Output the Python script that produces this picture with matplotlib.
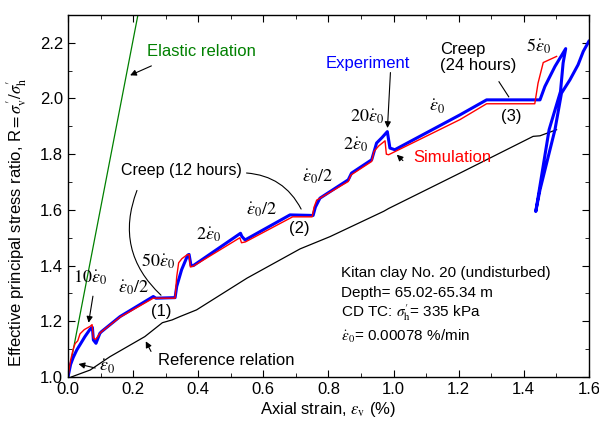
import numpy as np
import matplotlib
matplotlib.use("Agg")
import matplotlib.pyplot as plt
from matplotlib.ticker import MultipleLocator

plt.rcParams['font.family'] = ['Liberation Sans', 'DejaVu Sans']
plt.rcParams['mathtext.fontset'] = 'stix'

# === Data (axial strain %, stress ratio R) ===
exp_x = [0.000, 0.008, 0.016, 0.027, 0.052, 0.068, 0.075, 0.078, 0.086, 0.098,
         0.103, 0.160, 0.262, 0.270, 0.329, 0.334, 0.349, 0.368, 0.372, 0.378,
         0.385, 0.530, 0.534, 0.544, 0.682, 0.753, 0.760, 0.774, 0.861, 0.871,
         0.933, 0.948, 0.965, 0.981, 0.989, 1.004, 1.204, 1.286, 1.450, 1.465,
         1.496, 1.529, 1.521, 1.513, 1.478, 1.437,
         1.450, 1.496, 1.516, 1.542, 1.567, 1.583, 1.600]
exp_y = [1.000, 1.045, 1.070, 1.097, 1.145, 1.172, 1.178, 1.133, 1.121, 1.157,
         1.163, 1.217, 1.289, 1.283, 1.285, 1.325, 1.385, 1.438, 1.440, 1.400,
         1.400, 1.516, 1.505, 1.492, 1.582, 1.580, 1.610, 1.642, 1.708, 1.732,
         1.780, 1.840, 1.860, 1.881, 1.822, 1.816, 1.941, 1.995, 1.995, 2.043,
         2.115, 2.179, 2.127, 2.025, 1.888, 1.594,
         1.672, 1.888, 2.019, 2.067, 2.121, 2.169, 2.205]

sim_x = [0.000, 0.008, 0.016, 0.022, 0.030, 0.037, 0.050, 0.068, 0.074, 0.078,
         0.085, 0.100, 0.160, 0.262, 0.329, 0.334, 0.340, 0.350, 0.365, 0.372,
         0.376, 0.385, 0.528, 0.533, 0.545, 0.690, 0.750, 0.756, 0.764, 0.861,
         0.869, 0.933, 0.940, 0.955, 0.974, 0.978, 0.985, 1.204, 1.286, 1.434,
         1.444, 1.460, 1.501]
sim_y = [1.000, 1.060, 1.100, 1.120, 1.130, 1.155, 1.170, 1.182, 1.188, 1.140,
         1.135, 1.160, 1.215, 1.283, 1.283, 1.360, 1.410, 1.425, 1.438, 1.440,
         1.395, 1.398, 1.500, 1.482, 1.485, 1.575, 1.575, 1.610, 1.635, 1.702,
         1.725, 1.774, 1.810, 1.830, 1.848, 1.800, 1.798, 1.924, 1.981, 1.981,
         2.055, 2.129, 2.151]

ref_x = [0.010, 0.068, 0.129, 0.236, 0.290, 0.320, 0.344, 0.395, 0.550, 0.713,
         0.805, 0.970, 0.985, 1.142, 1.204, 1.429, 1.450, 1.501]
ref_y = [1.000, 1.025, 1.073, 1.145, 1.195, 1.205, 1.217, 1.241, 1.355, 1.460,
         1.504, 1.595, 1.605, 1.696, 1.732, 1.864, 1.866, 1.888]

elastic_x = [0.0, 0.25]
elastic_y = [1.0, 2.5125]

eps = r'\dot{\varepsilon}_0'

fig = plt.figure(figsize=(5.99, 4.26), dpi=100)
ax = fig.add_axes([0.1135, 0.115, 0.8695, 0.85])

ax.plot(elastic_x, elastic_y, color='green', lw=0.9)
ax.plot(ref_x, ref_y, color='black', lw=0.9)
ax.plot(exp_x, exp_y, color='blue', lw=2.2)
ax.plot(sim_x, sim_y, color='red', lw=1.0)

ax.set_xlim(0, 1.6)
ax.set_ylim(1.0, 2.3)
ax.xaxis.set_major_locator(MultipleLocator(0.2))
ax.xaxis.set_minor_locator(MultipleLocator(0.1))
ax.yaxis.set_major_locator(MultipleLocator(0.2))
ax.yaxis.set_minor_locator(MultipleLocator(0.1))
ax.tick_params(which='both', direction='in', top=True, right=True, labelsize=12)
ax.tick_params(which='major', length=5)
ax.tick_params(which='minor', length=3)
for s in ax.spines.values():
    s.set_linewidth(1.0)

ax.set_xlabel(r'Axial strain, $\varepsilon_{\rm v}$ (%)', fontsize=12, labelpad=2)
ax.set_ylabel(r"Effective principal stress ratio, R$=\sigma^{\prime}_{\rm v}/\sigma^{\prime}_{\rm h}$",
              fontsize=12)
ax.yaxis.set_label_coords(-0.075, 0.428)

fs = 12
ax.text(0.243, 2.168, 'Elastic relation', color='green', fontsize=fs, va='center')
ax.text(0.792, 2.125, 'Experiment', color='blue', fontsize=fs, va='center')
ax.text(1.060, 1.787, 'Simulation', color='red', fontsize=fs, va='center')
ax.text(1.142, 2.146, 'Creep\n(24 hours)', fontsize=fs, va='center', linespacing=1.1)
ax.text(0.162, 1.740, 'Creep (12 hours)', fontsize=11.5, va='center')
ax.text(0.277, 1.061, 'Reference relation', fontsize=fs, va='center')
ax.text(0.288, 1.235, '(1)', fontsize=fs, ha='center', va='center')
ax.text(0.711, 1.534, '(2)', fontsize=fs, ha='center', va='center')
ax.text(1.363, 1.934, '(3)', fontsize=fs, ha='center', va='center')

# strain rate labels
rate_labels = [
    (0.119, 1.035, f'${eps}$'),
    (0.068, 1.355, f'$10{eps}$'),
    (0.200, 1.319, f'${eps}/2$'),
    (0.277, 1.414, f'$50{eps}$'),
    (0.431, 1.510, f'$2{eps}$'),
    (0.595, 1.600, f'${eps}/2$'),
    (0.768, 1.719, f'${eps}/2$'),
    (0.885, 1.834, f'$2{eps}$'),
    (0.920, 1.934, f'$20{eps}$'),
    (1.133, 1.970, f'${eps}$'),
    (1.447, 2.186, f'$5{eps}$'),
]
for x, y, s in rate_labels:
    ax.text(x, y, s, fontsize=13, ha='center', va='center')

arrow = dict(arrowstyle='-|>', color='black', lw=0.8, mutation_scale=9)
ax.annotate('', xy=(0.183, 2.079), xytext=(0.264, 2.121), arrowprops=arrow)
ax.annotate('', xy=(0.981, 1.884), xytext=(0.991, 2.103), arrowprops=arrow)
ax.annotate('', xy=(1.004, 1.805), xytext=(1.035, 1.770), arrowprops=arrow)
ax.annotate('', xy=(0.024, 1.049), xytext=(0.092, 1.030), arrowprops=arrow)
ax.annotate('', xy=(0.062, 1.185), xytext=(0.078, 1.300), arrowprops=arrow)
ax.annotate('', xy=(0.235, 1.137), xytext=(0.259, 1.083), arrowprops=arrow)

# creep pointers
ax.annotate('', xy=(0.292, 1.287), xytext=(0.215, 1.679),
            arrowprops=dict(arrowstyle='-', color='black', lw=0.8,
                            connectionstyle='arc3,rad=0.35'))
ax.annotate('', xy=(0.720, 1.594), xytext=(0.540, 1.733),
            arrowprops=dict(arrowstyle='-', color='black', lw=0.8,
                            connectionstyle='arc3,rad=-0.3'))
ax.plot([1.324, 1.354], [2.060, 2.006], color='black', lw=0.8)

info = ['Kitan clay No. 20 (undisturbed)',
        'Depth= 65.02-65.34 m',
        r"CD TC: $\sigma^{\prime}_{\rm h}$= 335 kPa",
        f'${eps}$= 0.00078 %/min']
for s, y in zip(info, [1.374, 1.302, 1.232, 1.144]):
    ax.text(0.839, y, s, fontsize=11, va='center')

fig.savefig('out.png', dpi=100)
